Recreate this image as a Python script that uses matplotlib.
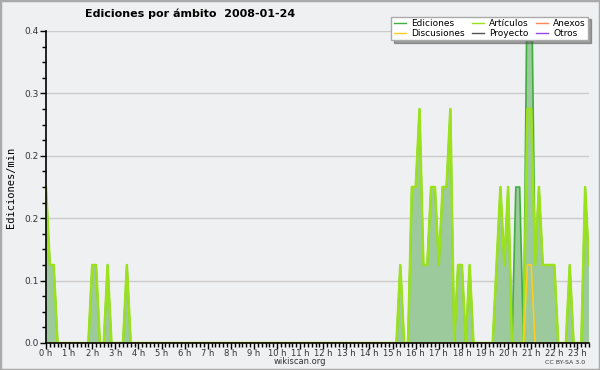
import numpy as np
import matplotlib
matplotlib.use("Agg")
import matplotlib.pyplot as plt
from matplotlib.ticker import MultipleLocator, FormatStrFormatter, FixedLocator
from matplotlib.patches import Rectangle

# 10-minute bins from 00:00 to 23:30, edits per minute
minutes = np.arange(0, 1420, 10)

articulos = [
    0.2, 0.1, 0.1, 0, 0, 0, 0, 0, 0, 0, 0, 0,
    0.1, 0.1, 0, 0, 0.1, 0, 0, 0, 0, 0.1, 0, 0,
    0, 0, 0, 0, 0, 0, 0, 0, 0, 0, 0, 0,
    0, 0, 0, 0, 0, 0, 0, 0, 0, 0, 0, 0,
    0, 0, 0, 0, 0, 0, 0, 0, 0, 0, 0, 0,
    0, 0, 0, 0, 0, 0, 0, 0, 0, 0, 0, 0,
    0, 0, 0, 0, 0, 0, 0, 0, 0, 0, 0, 0,
    0, 0, 0, 0, 0, 0, 0, 0, 0.1, 0, 0, 0.2,
    0.2, 0.3, 0.1, 0.1, 0.2, 0.2, 0.1, 0.2, 0.2, 0.3, 0, 0.1,
    0.1, 0, 0.1, 0, 0, 0, 0, 0, 0, 0.1, 0.2, 0.1,
    0.2, 0, 0, 0, 0, 0.3, 0.3, 0.1, 0.2, 0.1, 0.1, 0.1,
    0.1, 0, 0, 0, 0.1, 0, 0, 0, 0.2, 0.1,
]

ediciones = [
    0.2, 0.1, 0.1, 0, 0, 0, 0, 0, 0, 0, 0, 0,
    0.1, 0.1, 0, 0, 0.1, 0, 0, 0, 0, 0.1, 0, 0,
    0, 0, 0, 0, 0, 0, 0, 0, 0, 0, 0, 0,
    0, 0, 0, 0, 0, 0, 0, 0, 0, 0, 0, 0,
    0, 0, 0, 0, 0, 0, 0, 0, 0, 0, 0, 0,
    0, 0, 0, 0, 0, 0, 0, 0, 0, 0, 0, 0,
    0, 0, 0, 0, 0, 0, 0, 0, 0, 0, 0, 0,
    0, 0, 0, 0, 0, 0, 0, 0, 0.1, 0, 0, 0.2,
    0.2, 0.3, 0.1, 0.1, 0.2, 0.2, 0.1, 0.2, 0.2, 0.3, 0, 0.1,
    0.1, 0, 0.1, 0, 0, 0, 0, 0, 0, 0.1, 0.2, 0.1,
    0.2, 0, 0.2, 0.2, 0, 0.5, 0.5, 0.1, 0.2, 0.1, 0.1, 0.1,
    0.1, 0, 0, 0, 0.1, 0, 0, 0, 0.2, 0.1,
]

# Discusiones only shows up around 21 h
discusiones_bins = [125, 126]
discusiones_vals = [0.1, 0.1]

hour_labels = [f"{h} h" for h in range(24)]

hours = minutes / 60.0
discusiones = np.zeros(len(minutes))
discusiones[discusiones_bins] = discusiones_vals
flat = np.zeros(len(minutes))  # Proyecto, Anexos, Otros: no edits

bg = "#eff0f1"
fig = plt.figure(figsize=(6, 3.7), dpi=100, facecolor=bg)
ax = fig.add_axes([46 / 600, 1 - 343 / 370, 543 / 600, 312 / 370])
ax.set_facecolor(bg)

ax.fill_between(hours, ediciones, 0, color="#9cca9c", lw=0, zorder=2)
ax.plot(hours, ediciones, color="#3fae3f", lw=1.2, zorder=3, label="Ediciones")
ax.plot(hours, discusiones, color="#ffcc22", lw=1.2, zorder=5, label="Discusiones")
ax.plot(hours, articulos, color="#9be21c", lw=1.8, zorder=4, label="Artículos")
ax.plot(hours, flat, color="#555555", lw=1, zorder=1, label="Proyecto")
ax.plot(hours, flat, color="#ff8855", lw=1, zorder=1, label="Anexos")
ax.plot(hours, flat, color="#9944ee", lw=1, zorder=1, label="Otros")

ax.set_xlim(hours[0], hours[-1])
ax.set_ylim(0, 0.4)

ax.yaxis.set_major_locator(MultipleLocator(0.08))
ax.yaxis.set_minor_locator(MultipleLocator(0.02))
ax.yaxis.set_major_formatter(FormatStrFormatter("%.1f"))
ax.xaxis.set_major_locator(FixedLocator(range(24)))
ax.xaxis.set_minor_locator(MultipleLocator(1 / 6))
ax.set_xticklabels(hour_labels)

ax.tick_params(axis="y", which="major", length=4, width=1, labelsize=6.5,
               labelcolor="#333333", pad=1)
ax.tick_params(axis="x", which="major", length=4, width=1, labelsize=6,
               labelcolor="#333333", pad=0.5)
ax.tick_params(axis="both", which="minor", length=3, width=1)
for s in ["top", "right"]:
    ax.spines[s].set_visible(False)
for s in ["left", "bottom"]:
    ax.spines[s].set_linewidth(1.2)
    ax.spines[s].set_zorder(6)

ax.grid(axis="y", which="major", color="#cccccc", lw=1, zorder=0)
ax.set_axisbelow(True)

ax.set_ylabel("Ediciones/min", family="DejaVu Sans Mono", fontsize=7.5, labelpad=6)

fig.text(85 / 600, 1 - 14 / 370, "Ediciones por ámbito  2008-01-24",
         fontsize=8, fontweight="bold", ha="left", va="center")
fig.text(0.5, 1 - 362 / 370, "wikiscan.org", fontsize=6, color="#333333",
         ha="center", va="center")
fig.text(565 / 600, 1 - 363 / 370, "CC BY-SA 3.0", fontsize=4.5, color="#333333",
         ha="center", va="center")

leg = fig.legend(ncol=3, loc="upper right", bbox_to_anchor=(593 / 600, 1 - 12 / 370),
                 fontsize=6.5, handlelength=1.3, handletextpad=0.6, columnspacing=0.8,
                 labelspacing=0.05, borderpad=0.3, frameon=True, shadow=True,
                 fancybox=False, edgecolor="#aaaaaa", framealpha=1)
for line in leg.get_lines():
    line.set_linewidth(1)

fig.patches.append(Rectangle((0, 0), 1, 1, transform=fig.transFigure, fill=False,
                             edgecolor="#aaaaaa", lw=2.5))

fig.savefig("out.png", dpi=100, facecolor=bg)
